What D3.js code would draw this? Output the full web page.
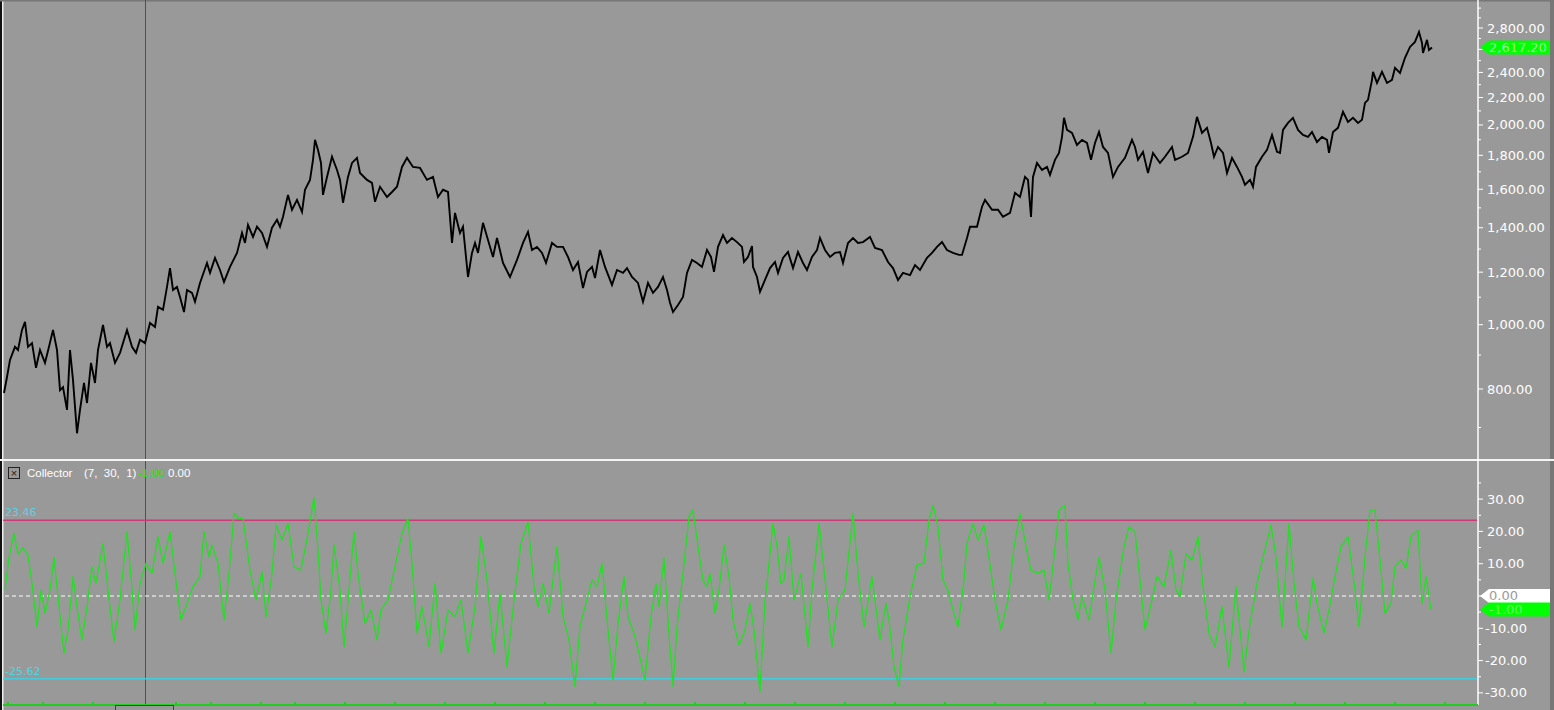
<!DOCTYPE html>
<html><head><meta charset="utf-8">
<script src="https://cdn.jsdelivr.net/npm/d3@7"></script>
<style>html,body{margin:0;padding:0;background:#999;overflow:hidden}</style>
</head><body><svg id="c" width="1554" height="710"></svg>
<script>
// ---------- DATA ----------
// price series: [bar, close]
const priceSeries = [
[4,789],[7,834],[10,885],[15,926],[18,916],[22,982],[25,1010],[28,926],[32,938],[36,861],
[40,916],[45,876],[49,926],[53,982],[57,916],[60,797],[63,805],[67,744],[70,916],[73,825],
[77,686],[80,744],[84,817],[87,762],[91,876],[95,817],[98,916],[103,999],[107,926],[110,938],
[115,876],[120,907],[127,982],[132,926],[136,907],[140,949],[145,938],[150,1006],[155,992],[158,1064],
[163,1053],[167,1140],[170,1217],[173,1128],[177,1140],[180,1101],[184,1045],[187,1128],[192,1117],[195,1083],
[200,1156],[207,1239],[210,1197],[215,1261],[220,1209],[224,1160],[230,1222],[237,1283],[242,1375],[245,1328],
[248,1414],[253,1356],[257,1405],[262,1375],[267,1310],[272,1400],[277,1439],[280,1405],[283,1454],[288,1569],
[292,1490],[297,1542],[302,1479],[305,1597],[310,1653],[313,1772],[315,1899],[318,1834],[321,1753],[323,1569],
[327,1670],[332,1791],[337,1711],[340,1653],[343,1527],[348,1670],[352,1753],[357,1784],[360,1693],[367,1653],
[372,1636],[375,1532],[380,1614],[387,1558],[392,1585],[397,1614],[402,1729],[407,1784],[413,1729],[420,1723],
[427,1653],[433,1670],[438,1558],[443,1597],[448,1585],
[452,1328],[455,1474],[460,1375],[463,1405],[468,1180],[472,1283],[475,1328],[478,1283],[483,1424],[488,1342],
[493,1265],[497,1351],[503,1239],[510,1180],[517,1252],[523,1328],[528,1380],[532,1296],[537,1310],[542,1283],
[546,1239],[552,1328],[557,1310],[563,1310],[568,1265],[573,1209],[578,1243],[583,1136],[587,1201],[592,1222],
[595,1176],[600,1296],[605,1222],[612,1148],[617,1209],[623,1197],[627,1217],[632,1180],[638,1156],[643,1083],
[648,1156],[653,1117],[658,1140],[663,1180],[667,1128],[670,1079],[673,1045],[678,1071],[683,1101],[687,1197],
[692,1252],[697,1239],[702,1222],[707,1296],[711,1265],[714,1201],[718,1310],[723,1365],[727,1328],[732,1351],
[737,1332],[742,1310],[744,1243],[748,1265],[752,1314],[753,1222],[757,1180],[760,1121],[765,1168],[770,1217],
[775,1243],[778,1197],[783,1261],[788,1287],[793,1217],[798,1287],[803,1239],[807,1209],[812,1265],[817,1296],
[820,1351],[825,1296],[830,1265],[835,1283],[840,1287],[843,1239],[848,1328],[853,1351],[858,1328],[863,1332],
[870,1356],[875,1305],[882,1296],[888,1243],[893,1217],[898,1168],[903,1197],[910,1188],[915,1230],[920,1209],
[927,1261],[932,1283],[937,1310],[942,1332],[947,1296],[953,1283],[959,1274],
[962,1274],[967,1351],[970,1405],[977,1405],[982,1506],[985,1542],[992,1490],[998,1490],[1003,1454],[1010,1474],
[1015,1580],[1020,1558],[1025,1670],[1028,1653],[1031,1454],[1033,1670],[1037,1753],[1042,1711],[1047,1729],[1050,1682],
[1055,1772],[1059,1815],[1062,1919],[1064,2050],[1067,1966],[1072,1946],[1077,1866],[1082,1899],[1087,1879],[1091,1772],
[1095,1879],[1099,1952],[1103,1853],[1108,1815],[1113,1670],[1118,1729],[1125,1784],[1132,1899],[1135,1853],[1138,1772],
[1143,1822],[1148,1693],[1153,1815],[1160,1753],[1165,1791],[1172,1853],[1175,1772],[1182,1791],[1188,1815],[1193,1919],
[1197,2057],[1202,1946],[1207,1980],[1211,1879],[1214,1791],[1218,1853],[1223,1815],[1227,1693],[1232,1784],[1237,1729],
[1242,1670],[1245,1625],[1250,1653],[1253,1614],[1256,1729],[1262,1791],[1267,1834],[1272,1932],[1277,1822],[1280,1815],
[1283,1966],[1288,2014],[1293,2050],[1298,1966],[1303,1932],[1308,1919],[1312,1952],[1317,1885],[1322,1919],[1327,1899],
[1329,1815],[1333,1952],[1338,1980],[1343,2093],[1348,2021],[1353,2050],[1358,2014],[1362,2036],[1365,2159],[1368,2182],
[1372,2339],[1373,2405],[1377,2314],[1382,2405],[1387,2314],[1392,2339],[1395,2438],[1400,2396],[1405,2525],[1410,2622],
[1415,2668],[1419,2762],[1422,2659],[1423,2568],[1427,2687],[1429,2595],[1432,2617]
];
// indicator series "Collector": [bar, value]
const collectorSeries = [
[5,1.9],[9,12],[14,19.4],[18,13],[23,15],[28,12.7],[32,3.9],[37,-9.5],[41,1.9],[45,-5.4],
[50,1.9],[54,12],[59,-3.3],[64,-17.7],[68,-10.5],[73,6],[77,-3.3],[82,-13.6],[87,-3.3],[92,9.1],
[96,3.9],[103,16.3],[108,1.9],[114,-14.1],[120,-1.2],[127,19.9],[131,6],[135,-10.5],[140,3.9],[146,10.1],
[152,7],[158,18.4],[163,10.1],[170,19.9],[177,1.9],[181,-7.4],[187,-2.3],[193,2.9],[200,6],[204,19.9],
[209,12],[212,15.8],[218,10.1],[224,-7.4],[229,7],[234,25.6],[239,24],[243,24],[250,8],[256,-1.2],
[262,7.5],[266,-6.4],[272,7],[276,22],[282,17.3],[288,22.5],[294,9.1],[301,8],[308,19.4],[314,30.5],
[318,14.2],[321,-1.2],[326,-11.5],[331,1.9],[334,15.8],[340,1.9],[344,-15.7],[349,1.9],[354,19.9],[358,7],
[365,-8.5],[371,-4.3],[377,-13.6],[381,-4.3],[388,-1.2],[395,9.1],[402,19.4],[408,24],[412,10.1],[417,-11.5],
[422,-3.3],[429,-15.7],[435,3.9],[441,-17.7],[448,-4.3],[455,-6.4],[461,-1.2],[468,-17.7],[475,-3.3],[481,18.4],
[487,4.9],[494,-17.7],[500,0.8],[507,-21.9],[514,-1.2],[521,16.3],[528,23],[534,2.9],[538,-3.3],[543,3.9],
[549,-5.4],[557,15.3],[563,-6.4],[569,-13.6],[575,-28],[580,-9.5],[585,-3.3],[592,4.9],[597,2.9],[602,10.1],
[608,-10.5],[613,-26],[618,-8.5],[624,6],[628,-6.4],[634,-11.5],[639,-17.7],[645,-26],[651,-6.4],[656,3.9],
[659,-3.3],[664,12],[668,-7.4],[673,-28],[677,-9.5],[683,7],[689,24.5],[693,26.6],[698,15.3],[703,4.9],
[707,2.9],[710,7],[715,-5.4],[719,1.9],[724,15.8],[729,6],[733,-7.4],[739,-15.2],[745,-10.5],[750,-2.3],
[754,-10.5],[760,-29.6],[765,-1.2],[768,7],[773,22.5],[777,15.3],[781,3.9],[784,4.9],[789,18.4],[794,-1.2],
[801,7],[808,-15.7],[812,1.9],[819,22.5],[824,8],[832,-15.7],[838,-1.2],[845,1.9],[853,25.6],[858,7],
[864,-9.5],[872,6],[877,-6.4],[880,-13.6],[886,-2.3],[889,-7.4],[894,-21.9],[899,-28],[903,-13.6],[910,-0.2],
[917,9.6],[924,10.1],[929,23.5],[933,28.1],[938,21.4],[943,4.9],[948,1.9],[953,-4.3],[958,-9.5],[964,4.9],
[967,16.3],[973,22.5],[978,17.3],[984,22],[989,12],[995,-1.2],[1001,-10.5],[1008,-1.2],[1014,15.3],[1020,25.6],
[1026,15.3],[1031,8],[1038,7],[1044,8],[1049,-1.2],[1054,12],[1059,26.6],[1065,28.1],[1068,10.1],[1073,-1.2],
[1078,-7.4],[1082,-0.2],[1089,-7.4],[1094,2.9],[1099,12],[1105,1.9],[1111,-17.7],[1116,-1.2],[1124,15.3],[1129,21.4],
[1135,19.9],[1141,1.9],[1145,-10.5],[1152,-1.2],[1157,6],[1164,2.9],[1171,14.2],[1176,1.9],[1180,-0.2],[1186,13.2],
[1192,11.1],[1198,18.4],[1203,2.9],[1209,-11.5],[1215,-15.7],[1222,-3.3],[1229,-21.9],[1236,2.9],[1244,-23.4],[1250,-8.5],
[1257,3.9],[1264,13.2],[1271,22],[1276,12],[1282,-9.5],[1289,22.5],[1294,3.9],[1299,-9.5],[1306,-13.6],[1313,5.5],
[1317,-2.3],[1324,-11.5],[1329,-4.3],[1335,6],[1341,15.3],[1348,18.4],[1355,1.9],[1359,-9.5],[1365,12],[1370,26.6],
[1375,26.6],[1380,11.1],[1385,-5.4],[1391,-2.3],[1395,9.1],[1401,11.1],[1406,8.6],[1411,18.4],[1418,20.4],[1422,-2.3],
[1426,6],[1431,-4.2]
];
const priceTickValues = [800,1000,1200,1400,1600,1800,2000,2200,2400,2600,2800];
const priceLabelValues = [800,1000,1200,1400,1600,1800,2000,2200,2400,2800];
const priceMinorValues = [700,900,1100,1300,1500,1700,1900,2100,2300,2500,2700,2900,3000];
const collectorTickValues = [30,20,10,-10,-20,-30];
const collectorMinorValues = [35,25,15,5,-5,-15,-25];
const upperLevel = 23.46, lowerLevel = -25.62;
const lastPriceLabel = "2,617.20";
const lastCollectorLabel = "-1.00";
const indicatorName = "Collector", indicatorParams = "(7,  30,  1)";
const headerValues = ["-1.00","0.00"];
const timeMarkBars = [8,43,93,176,211,261,295,345,395,445,495,545,595,645,695,745,795,845,895,945,995,1045,1095,1145,1195,1245,1295,1345,1395,1445];

// ---------- LAYOUT ----------
const W = 1554, H = 710, axisX = 1478;
const svg = d3.select("#c");
const BG = "#999999";
const font = "DejaVu Sans, Verdana, sans-serif";
const hfont = "Liberation Sans, Arial, sans-serif";

const x = d3.scaleLinear().domain([0, axisX]).range([0, axisX]);
const yP = d3.scaleLog().domain([800, 2800]).range([389, 28]);
const yI = d3.scaleLinear().domain([-33.75, 40.25]).range([705, 466]);

svg.append("rect").attr("width", W).attr("height", H).attr("fill", BG);
// edges
svg.append("rect").attr("x",0).attr("y",0).attr("width",2).attr("height",H).attr("fill","#111");
svg.append("rect").attr("x",2).attr("y",0).attr("width",1.5).attr("height",H).attr("fill","#eee");
svg.append("rect").attr("x",1550).attr("y",0).attr("width",4).attr("height",H).attr("fill","#777");
svg.append("rect").attr("x",0).attr("y",0).attr("width",W).attr("height",1.5).attr("fill","#777");

// clip for price pane
svg.append("clipPath").attr("id","pc").append("rect").attr("x",3).attr("y",0).attr("width",axisX-3).attr("height",458);

// crosshair
svg.append("line").attr("x1",145.5).attr("x2",145.5).attr("y1",0).attr("y2",705).attr("stroke","#505050").attr("stroke-width",1);

// price line
svg.append("path").datum(priceSeries)
  .attr("clip-path","url(#pc)")
  .attr("d", d3.line().x(d=>x(d[0])).y(d=>yP(d[1])))
  .attr("fill","none").attr("stroke","#000").attr("stroke-width",1.9).attr("stroke-linejoin","miter");

// separator
svg.append("rect").attr("x",0).attr("y",459).attr("width",W).attr("height",2).attr("fill","#f4f4f4");

// indicator levels
svg.append("line").attr("x1",3).attr("x2",axisX).attr("y1",yI(upperLevel)).attr("y2",yI(upperLevel))
  .attr("stroke","#cc3a78").attr("stroke-width",1.5);
svg.append("line").attr("x1",3).attr("x2",axisX).attr("y1",yI(lowerLevel)).attr("y2",yI(lowerLevel))
  .attr("stroke","#44ccdd").attr("stroke-width",1.5);
const lastBar = collectorSeries[collectorSeries.length-1][0];
svg.append("line").attr("x1",5).attr("x2",x(lastBar)).attr("y1",yI(0)).attr("y2",yI(0))
  .attr("stroke","#fff").attr("stroke-width",1.2).attr("stroke-dasharray","4,3");

// indicator line
svg.append("path").datum(collectorSeries)
  .attr("d", d3.line().x(d=>x(d[0])).y(d=>yI(d[1])))
  .attr("fill","none").attr("stroke","#22e022").attr("stroke-width",1.3).attr("stroke-linejoin","round");

// level labels
svg.append("text").attr("x",5).attr("y",yI(upperLevel)-4).text(upperLevel.toFixed(2))
  .attr("fill","#4fd6e6").attr("font-family",font).attr("font-size",11);
svg.append("text").attr("x",5).attr("y",yI(lowerLevel)-4).text(lowerLevel.toFixed(2))
  .attr("fill","#4fd6e6").attr("font-family",font).attr("font-size",11);

// header
const hdr = svg.append("g").attr("font-family",hfont).attr("font-size",11.5);
hdr.append("rect").attr("x",8.5).attr("y",467.5).attr("width",11).attr("height",11).attr("fill","none").attr("stroke","#222");
hdr.append("text").attr("x",14).attr("y",477).attr("text-anchor","middle").attr("font-size",11).attr("fill","#222").text("×");
hdr.append("text").attr("x",27).attr("y",477).attr("fill","#fff").text(indicatorName);
hdr.append("text").attr("x",84).attr("y",477).attr("fill","#fff").style("white-space","pre").text(indicatorParams);
hdr.append("text").attr("x",138).attr("y",477).attr("fill","#22e022").text(headerValues[0]);
hdr.append("text").attr("x",168).attr("y",477).attr("fill","#fff").text(headerValues[1]);

// right axis
svg.append("line").attr("x1",axisX).attr("x2",axisX).attr("y1",0).attr("y2",705).attr("stroke","#fff").attr("stroke-width",1.5);
const ax = svg.append("g").attr("font-family",font).attr("font-size",13).attr("fill","#fff");
priceTickValues.forEach(v=>{
  ax.append("line").attr("x1",axisX).attr("x2",axisX+5).attr("y1",yP(v)).attr("y2",yP(v)).attr("stroke","#fff");
});
priceMinorValues.forEach(v=>{
  const yy=yP(v); if(yy<2||yy>455) return;
  ax.append("line").attr("x1",axisX).attr("x2",axisX+3).attr("y1",yy).attr("y2",yy).attr("stroke","#fff");
});
priceLabelValues.forEach(v=>{
  ax.append("text").attr("x",1487).attr("y",yP(v)+4.5).text(d3.format(",.2f")(v));
});
collectorTickValues.concat([0]).forEach(v=>{
  ax.append("line").attr("x1",axisX).attr("x2",axisX+5).attr("y1",yI(v)).attr("y2",yI(v)).attr("stroke","#fff");
});
collectorMinorValues.forEach(v=>{
  ax.append("line").attr("x1",axisX).attr("x2",axisX+3).attr("y1",yI(v)).attr("y2",yI(v)).attr("stroke","#fff");
});
collectorTickValues.forEach(v=>{
  ax.append("text").attr("x", v<0 ? 1485 : 1487).attr("y",yI(v)+4.5).text(d3.format(".2f")(v).replace("−","-"));
});

// tags
function tag(cy, fill, label, txtFill){
  const g = svg.append("g");
  g.append("path").attr("d",`M${axisX+2},${cy} L${axisX+11},${cy-7} L1550,${cy-7} L1550,${cy+7} L${axisX+11},${cy+7} Z`).attr("fill",fill);
  g.append("text").attr("x",1489).attr("y",cy+4.5).attr("font-family",font).attr("font-size",13).attr("fill",txtFill).text(label);
}
tag(yP(priceSeries[priceSeries.length-1][1]), "#00ff00", lastPriceLabel, "#9dff9d");
tag(yI(0), "#ffffff", "0.00", "#9a9a9a");
tag(yI(collectorSeries[collectorSeries.length-1][1]), "#00ff00", lastCollectorLabel, "#66ff66");

// bottom time strip
svg.append("rect").attr("x",3).attr("y",704).attr("width",axisX-3).attr("height",2).attr("fill","#22cc22");
timeMarkBars.forEach(b=>{
  svg.append("rect").attr("x",x(b)-1).attr("y",702).attr("width",2).attr("height",4).attr("fill","#22cc22");
});
svg.append("rect").attr("x",115.5).attr("y",705.5).attr("width",58).attr("height",6).attr("fill","none").attr("stroke","#1a5a1a");
</script></body></html>
